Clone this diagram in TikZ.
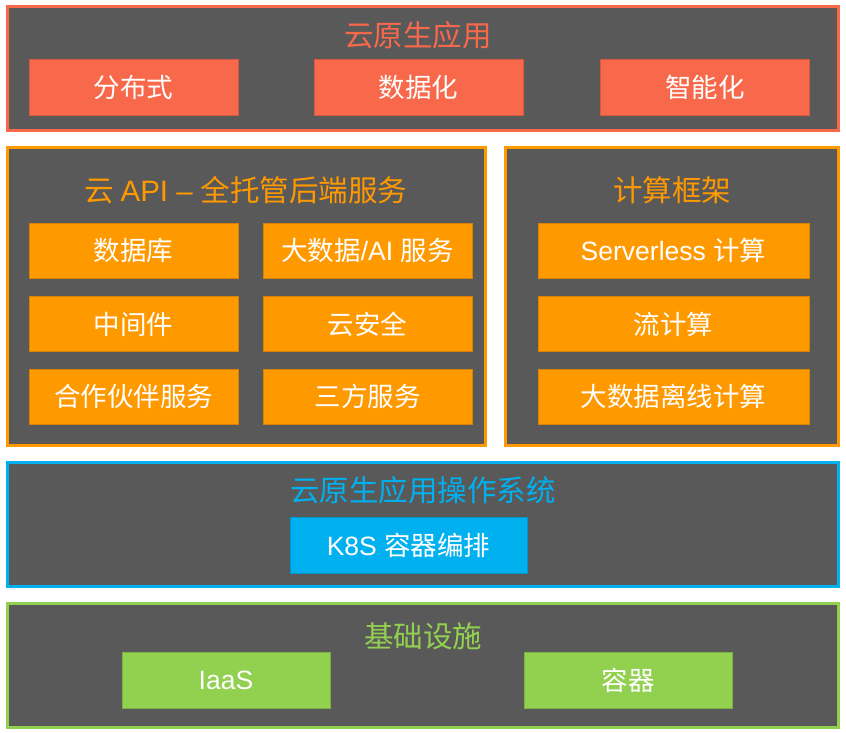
\documentclass[tikz,border=0pt]{standalone}
\usepackage{fontspec}
\setmainfont{Noto Sans CJK SC}
\newfontfamily\lat{Liberation Sans}
\definecolor{cgray}{HTML}{595959}
\definecolor{cred}{HTML}{F8694C}
\definecolor{corange}{HTML}{FF9900}
\definecolor{cblue}{HTML}{00B0EF}
\definecolor{cgreen}{HTML}{92D050}
\begin{document}
\begin{tikzpicture}[x=1pt,y=-1pt,
  panel/.style={draw=#1, line width=3pt, fill=cgray, inner sep=0pt, rectangle},
  box/.style={fill=#1, draw=#1!85!black, line width=0.6pt, text=white, inner sep=0pt,
    minimum height=55pt, font=\fontsize{26.5}{30}\selectfont},
  ttl/.style={text=#1, inner sep=0pt, font=\fontsize{29.5}{33}\selectfont}]
\useasboundingbox (0,0) rectangle (846,733);
% panels
\node[panel=cred, minimum width=831pt, minimum height=123.5pt] (app) at (423,68.75) {};
\node[panel=corange, minimum width=478pt, minimum height=298pt] (api) at (246.5,296.5) {};
\node[panel=corange, minimum width=333.5pt, minimum height=298pt] (fw) at (671.75,296.5) {};
\node[panel=cblue, minimum width=831pt, minimum height=124pt] (os) at (423,524.5) {};
\node[panel=cgreen, minimum width=831pt, minimum height=124pt] (infra) at (423,665.5) {};
% titles
\node[ttl=cred] (t1) at (418,35) {云原生应用};
\node[ttl=corange] (t2) at (246,190) {云 {\lat API – }全托管后端服务};
\node[ttl=corange] (t3) at (672,190) {计算框架};
\node[ttl=cblue] (t4) at (423,490) {云原生应用操作系统};
\node[ttl=cgreen] (t5) at (423,636) {基础设施};
% app boxes
\node[box=cred, minimum width=209pt, minimum height=56pt] (b1) at (133.5,87) {分布式};
\node[box=cred, minimum width=209pt, minimum height=56pt] (b2) at (418.5,87) {数据化};
\node[box=cred, minimum width=209pt, minimum height=56pt] (b3) at (705,87) {智能化};
% api boxes
\node[box=corange, minimum width=209pt] (a1) at (133.5,250.5) {数据库};
\node[box=corange, minimum width=209pt] (a2) at (367.5,250.5) {大数据{\lat /AI }服务};
\node[box=corange, minimum width=209pt] (a3) at (133.5,324) {中间件};
\node[box=corange, minimum width=209pt] (a4) at (367.5,324) {云安全};
\node[box=corange, minimum width=209pt] (a5) at (133.5,396.5) {合作伙伴服务};
\node[box=corange, minimum width=209pt] (a6) at (367.5,396.5) {三方服务};
% framework boxes
\node[box=corange, minimum width=271pt] (f1) at (673.5,250.5) {{\lat Serverless }计算};
\node[box=corange, minimum width=271pt] (f2) at (673.5,324) {流计算};
\node[box=corange, minimum width=271pt] (f3) at (673.5,396.5) {大数据离线计算};
% os box
\node[box=cblue, minimum width=237pt, minimum height=56pt] (k8s) at (408.5,545) {{\lat K8S }容器编排};
% infra boxes
\node[box=cgreen, minimum width=208pt, minimum height=56pt] (iaas) at (226,680.5) {{\lat IaaS}};
\node[box=cgreen, minimum width=208pt, minimum height=56pt] (ctr) at (628,680.5) {容器};
\end{tikzpicture}
\end{document}
